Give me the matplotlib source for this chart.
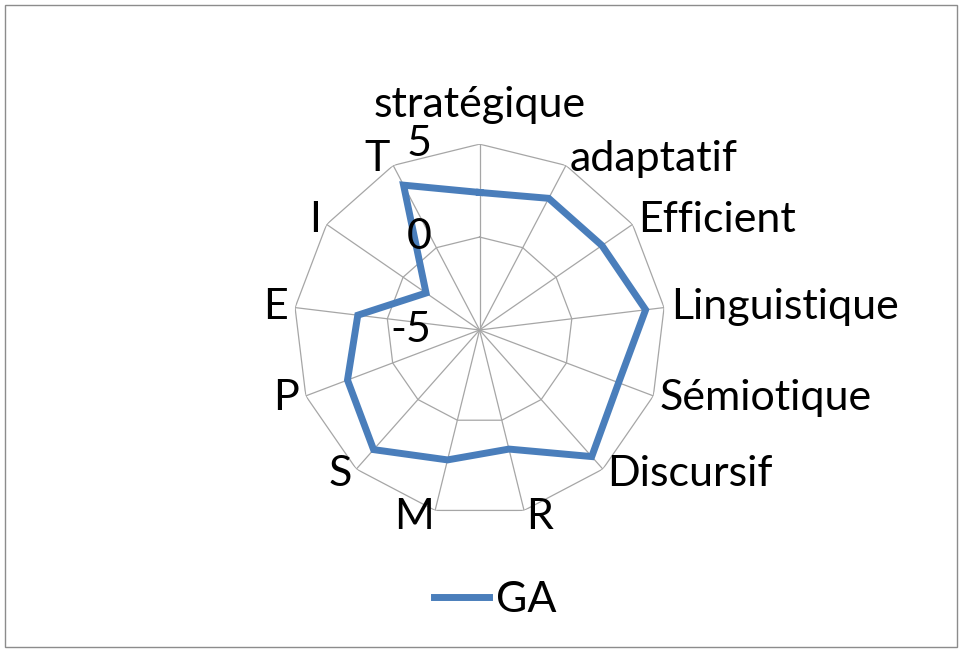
import numpy as np
import matplotlib.pyplot as plt
import matplotlib.transforms as mtransforms
from matplotlib.patches import Rectangle

plt.rcParams['font.family'] = ['Lato', 'DejaVu Sans']

categories = ['stratégique', 'adaptatif', 'Efficient', 'Linguistique', 'Sémiotique',
              'Discursif', 'R', 'M', 'S', 'P', 'E', 'I', 'T']
ga = [2.4, 3.0, 3.0, 4.0, 3.0, 4.1, 1.6, 2.2, 3.6, 2.6, 1.6, -1.5, 3.8]
rings = [-5, 0, 5]
ring_labels = ['-5', '0', '5']

n = len(categories)
angles = [np.pi / 2 - 2 * np.pi * i / n for i in range(n)]

fig = plt.figure(figsize=(9.63, 6.52), dpi=100)
fig.patches.append(Rectangle((0.005, 0.007), 0.989, 0.986, transform=fig.transFigure,
                             fill=False, edgecolor='#8c8c8c', linewidth=1))

ax = fig.add_axes([0.305, 0.2086, 0.386, 0.5706], projection='polar')
ax.set_ylim(-5, 5)
ax.axis('off')

# polygon grid like excel
closed = angles + angles[:1]
for r in rings[1:]:
    ax.plot(closed, [r] * (n + 1), color='#a6a6a6', lw=0.9, zorder=1)
for a in angles:
    ax.plot([a, a], [-5, 5], color='#a6a6a6', lw=0.9, zorder=1)

line, = ax.plot(closed, ga + ga[:1], color='#4a7ebb', lw=5, zorder=3,
                solid_joinstyle='miter', label='GA')

# category labels
fs = 31
for a, lab in zip(angles, categories):
    c, s = np.cos(a), np.sin(a)
    if abs(c) < 0.05:
        ha, va = 'center', 'bottom'
        dx, dy = 0, 20
    else:
        ha, va = ('left' if c > 0 else 'right'), 'center'
        dx, dy = 7 * c, 7 * s
    tr = mtransforms.offset_copy(ax.transData, fig=fig, x=dx, y=dy, units='dots')
    ax.text(a, 5, lab, transform=tr, ha=ha, va=va, fontsize=fs, color='black')

# radial tick labels
for r, lab in zip(rings, ring_labels):
    tr = mtransforms.offset_copy(ax.transData, fig=fig, x=-48, y=0, units='dots')
    ax.text(np.pi / 2, r, lab, transform=tr, ha='right', va='center', fontsize=fs)

fig.legend(handles=[line], loc='center', bbox_to_anchor=(0.514, 0.08), frameon=False,
           fontsize=fs, handlelength=1.3, handletextpad=0.15)

fig.savefig('out.png', dpi=100)
